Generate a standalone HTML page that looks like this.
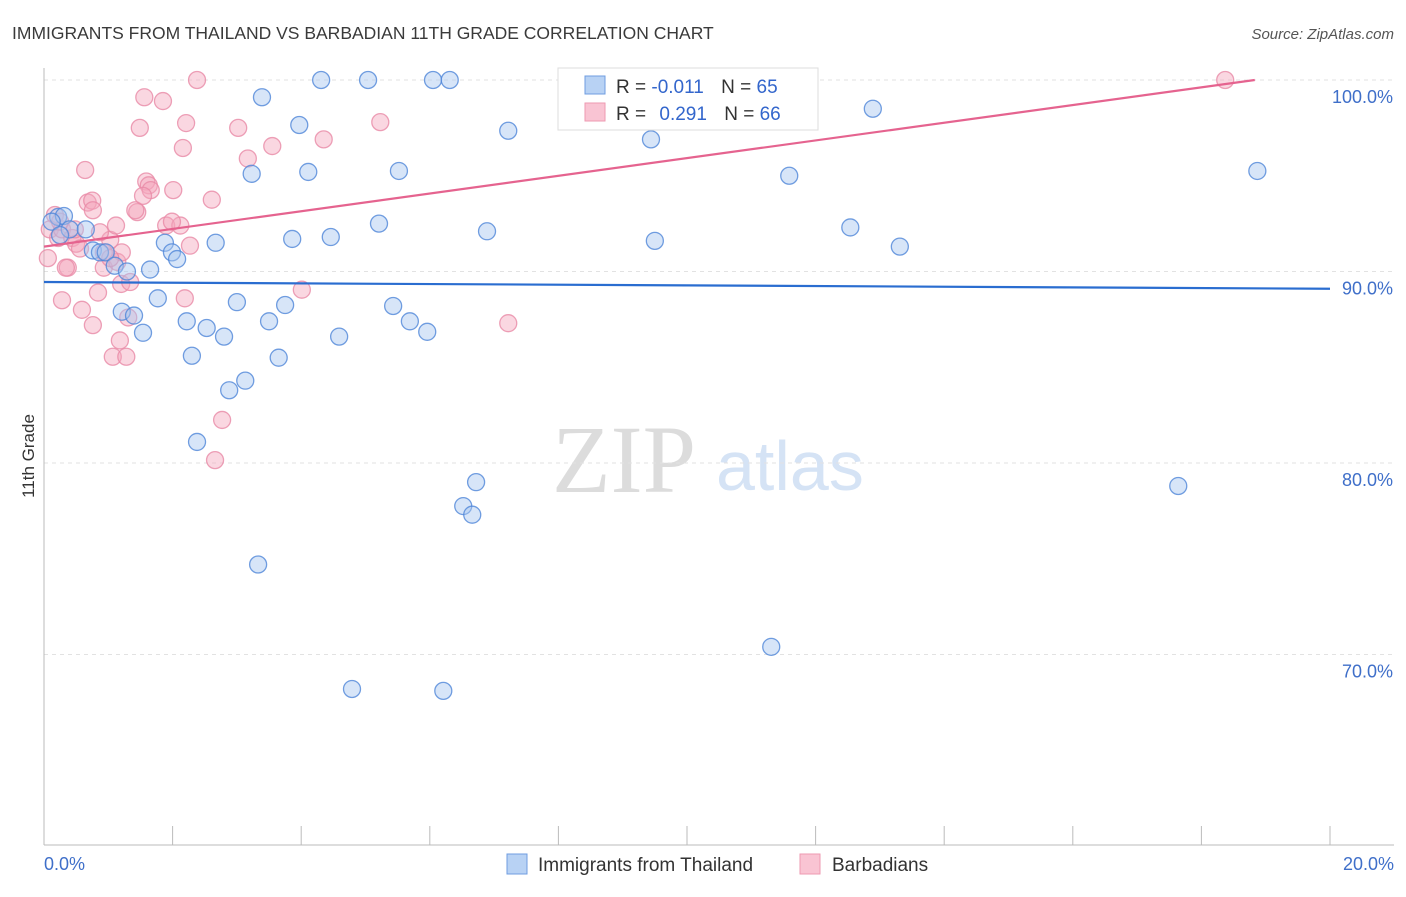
<!DOCTYPE html>
<html><head><meta charset="utf-8"><style>
body{margin:0;background:#fff;font-family:"Liberation Sans",sans-serif}
</style></head><body>
<svg id="chart" width="1406" height="892" xmlns="http://www.w3.org/2000/svg" font-family="Liberation Sans, sans-serif">
<text x="12" y="39" font-size="17.5" fill="#3a3a3a">IMMIGRANTS FROM THAILAND VS BARBADIAN 11TH GRADE CORRELATION CHART</text>
<text x="1394" y="39" font-size="15" fill="#555" text-anchor="end" font-style="italic">Source: ZipAtlas.com</text>
<g>
<text x="552" y="492" font-size="96" font-family="Liberation Serif, serif" fill="#dcdcdc">ZIP</text>
<text x="716" y="490" font-size="70" fill="#d5e3f5">atlas</text>
</g>
<g id="grid"></g>
<g id="axes"></g>
<g id="trends"></g>
<g id="points"></g>
<text transform="translate(34,456) rotate(-90)" font-size="17" fill="#333" text-anchor="middle">11th Grade</text>
<g>
<rect x="558" y="68" width="260" height="62" fill="#fff" stroke="#ddd"/>
<rect x="585" y="76" width="20" height="18" fill="#b8d2f4" stroke="#6f9ce0"/>
<rect x="585" y="103" width="20" height="18" fill="#f9c4d3" stroke="#ee9ab2"/>
<text x="616" y="93" font-size="19" fill="#333">R = <tspan fill="#3366cc">-0.011</tspan>  <tspan dx="12" fill="#333">N =</tspan> <tspan fill="#3366cc">65</tspan></text>
<text x="616" y="120" font-size="19" fill="#333">R = <tspan dx="8" fill="#3366cc">0.291</tspan>  <tspan dx="12" fill="#333">N =</tspan> <tspan fill="#3366cc">66</tspan></text>
</g>
<g>
<rect x="507" y="854" width="20" height="20" fill="#b8d2f4" stroke="#6f9ce0"/>
<text x="538" y="871" font-size="19" fill="#333">Immigrants from Thailand</text>
<rect x="800" y="854" width="20" height="20" fill="#f9c4d3" stroke="#ee9ab2"/>
<text x="832" y="871" font-size="19" fill="#333">Barbadians</text>
</g>
</svg>
<script>
const yTicks=[100,90,80,70];
const yTickLabels=["100.0%","90.0%","80.0%","70.0%"];
const xTicks=[0,2,4,6,8,10,12,14,16,18,20];
const xEndLabels=["0.0%","20.0%"];
const blueX=[0.22,0.31,0.12,0.40,0.65,0.76,0.87,0.96,1.10,1.29,1.65,1.88,1.99,2.07,2.67,1.77,1.21,1.40,1.54,2.22,2.53,2.30,2.80,3.00,2.88,3.13,2.38,3.23,3.39,3.97,4.31,5.04,6.05,6.31,4.11,3.86,4.46,3.50,3.75,3.65,4.59,5.43,5.21,5.52,5.69,5.96,6.89,7.22,6.52,6.66,6.72,3.33,4.79,6.21,9.44,9.50,11.59,12.54,12.89,13.31,17.64,18.87,11.31,0.25];
const blueY=[92.85,92.9,92.6,92.2,92.2,91.1,91.0,91.0,90.3,90.0,90.1,91.5,91.0,90.65,91.5,88.6,87.9,87.7,86.8,87.4,87.05,85.6,86.6,88.4,83.8,84.3,81.1,95.1,99.1,97.65,100,100,100,100,95.2,91.7,91.8,87.4,88.25,85.5,86.6,88.2,92.5,95.25,87.4,86.85,92.1,97.35,77.75,77.3,79.0,74.7,68.2,68.1,96.9,91.6,95.0,92.3,98.5,91.3,78.8,95.25,70.4,91.9];
const pinkX=[0.17,0.09,0.22,0.28,0.44,0.25,0.64,0.68,0.75,0.50,0.56,0.37,0.34,0.28,0.59,0.76,0.84,0.93,1.03,1.12,1.14,0.93,1.21,1.20,1.34,1.31,1.18,1.07,1.28,1.49,1.56,1.85,2.38,2.21,2.16,3.02,3.17,3.55,4.35,5.23,1.45,1.42,1.59,1.63,1.66,1.54,2.01,1.90,2.12,1.99,2.27,2.61,2.19,2.77,2.66,4.01,7.22,18.37,1.03,0.48,0.87,0.76,0.06];
const pinkY=[92.95,92.2,91.75,92.2,91.75,92.6,95.3,93.6,93.7,91.45,91.2,90.2,90.2,88.5,88.0,87.2,88.9,90.2,91.65,92.4,90.5,91.0,91.0,89.35,89.45,87.6,86.4,85.55,85.55,97.5,99.1,98.9,100,97.75,96.45,97.5,95.9,96.55,96.9,97.8,93.1,93.2,94.7,94.5,94.25,93.95,94.25,92.4,92.4,92.6,91.35,93.75,88.6,82.25,80.15,89.05,87.3,100,90.7,92.2,92.05,93.2,90.7];
const blueTrend=[[0,89.45],[20,89.1]];
const pinkTrend=[[0,91.3],[18.83,100]];

const NS="http://www.w3.org/2000/svg";
const X0=44,X1=1330,Y100=80,PXPER=19.15;
const sx=v=>X0+(X1-X0)*v/20;
const sy=v=>Y100+(100-v)*PXPER;
function mk(tag,attrs,parent){const e=document.createElementNS(NS,tag);for(const k in attrs)e.setAttribute(k,attrs[k]);parent.appendChild(e);return e;}
const grid=document.getElementById('grid'),axes=document.getElementById('axes'),trends=document.getElementById('trends'),pts=document.getElementById('points');
yTicks.forEach((t,i)=>{
  const l=mk('line',{x1:X0,x2:1394,y1:sy(t),y2:sy(t),stroke:'#e2e2e2','stroke-dasharray':'4,4'},grid);
  
  
  const tx=mk('text',{x:1393,y:sy(t)+23,'font-size':18,fill:'#3f6fc9','text-anchor':'end'},grid);
  tx.textContent=yTickLabels[i];
  
  
});
const ya=mk('line',{x1:X0,x2:X0,y1:68,y2:845,stroke:'#bbb'},axes);


const xa=mk('line',{x1:X0,x2:1394,y1:845,y2:845,stroke:'#bbb'},axes);


xTicks.forEach(t=>{
  const l=mk('line',{x1:sx(t),x2:sx(t),y1:826,y2:845,stroke:'#bbb'},axes);
  
  
});
[[0,'start',44],[20,'end',1394]].forEach((d,i)=>{
  const tx=mk('text',{x:d[2],y:870,'font-size':18,fill:'#3f6fc9','text-anchor':d[1]},axes);
  tx.textContent=xEndLabels[i];
  
  
});
function drawPts(xs,ys,fill,stroke,name){
  xs.forEach((x,i)=>{
    const c=mk('circle',{cx:sx(x),cy:sy(ys[i]),r:8.5,fill:fill,'fill-opacity':0.45,stroke:stroke,'stroke-opacity':0.8,'stroke-width':1.3},pts);
    
    
  });
}
drawPts(pinkX,pinkY,'#f4a7bd','#e98aa6','barbadian-point');
drawPts(blueX,blueY,'#a6c6f0','#4f86d8','thailand-point');
function drawTrend(tr,col,name){
  const l=mk('line',{x1:sx(tr[0][0]),y1:sy(tr[0][1]),x2:sx(tr[1][0]),y2:sy(tr[1][1]),stroke:col,'stroke-width':2.2},trends);
  
  
}
drawTrend(pinkTrend,'#e5638f','barbadian-trend-line');
drawTrend(blueTrend,'#2a6dd0','thailand-trend-line');
trends.parentNode.appendChild(trends);
</script>
</body></html>
